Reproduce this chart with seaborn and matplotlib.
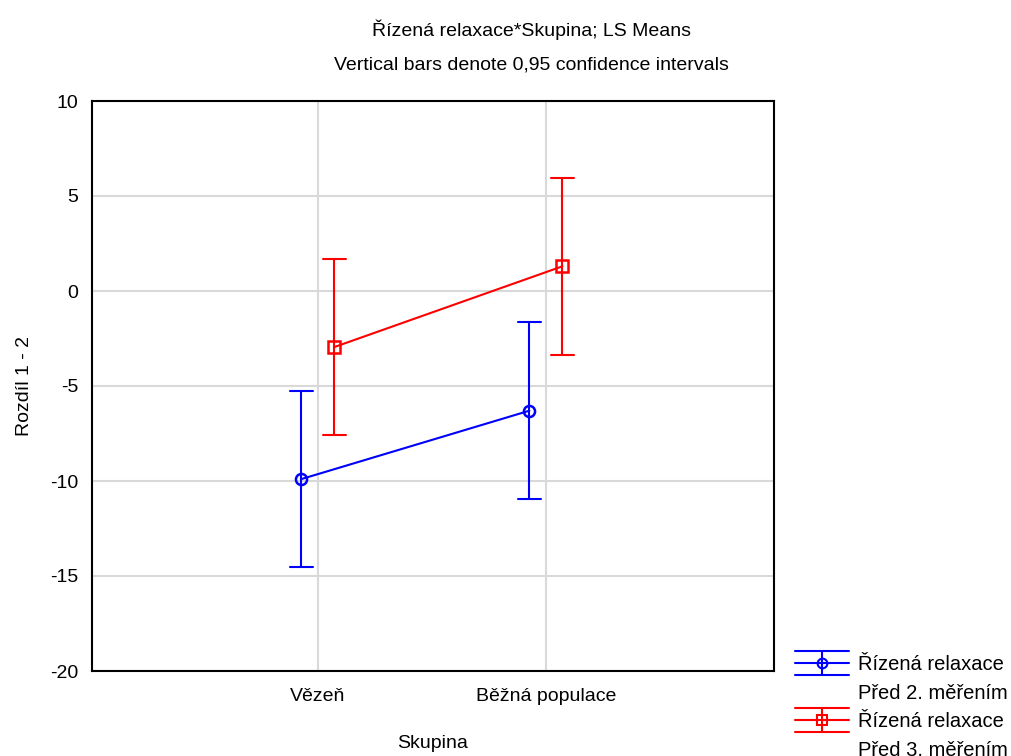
import pandas as pd
import matplotlib
matplotlib.use("Agg")
import matplotlib.pyplot as plt
import seaborn as sns
from matplotlib.lines import Line2D
from matplotlib.legend_handler import HandlerBase

# values (LS means and 95% CI bounds)
groups = ["Vězeň", "Běžná populace"]
series = ["Řízená relaxace\nPřed 2. měřením", "Řízená relaxace\nPřed 3. měřením"]
means_2 = [-9.9, -6.3]
lower_2 = [-14.55, -10.95]
upper_2 = [-5.25, -1.65]
means_3 = [-2.95, 1.3]
lower_3 = [-7.6, -3.35]
upper_3 = [1.7, 5.95]
colors = ["#0000FF", "#FF0000"]
markers = ["o", "s"]

# long table: lower / mean / upper per cell; median = mean, min-max = CI
rows = []
for s, m, lo, hi in [(series[0], means_2, lower_2, upper_2),
                     (series[1], means_3, lower_3, upper_3)]:
    for g, mv, lv, hv in zip(groups, m, lo, hi):
        for v in (lv, mv, hv):
            rows.append({"Skupina": g, "Serie": s, "value": v})
df = pd.DataFrame(rows)


# legend key in the "error bar" style: three horizontal strokes + vertical + marker
class ErrKey(HandlerBase):
    def create_artists(self, legend, orig, xd, yd, width, height, fontsize, trans):
        c = orig.get_color()
        x0, x1 = -xd, -xd + width
        if c == "none":
            blank = Line2D([x0, x1], [0, 0], color="none")
            blank.set_transform(trans)
            return [blank]
        xm = (x0 + x1) / 2
        ym = -yd + height / 2
        dy = 0.6 * fontsize
        arts = []
        for yy in (ym - dy, ym, ym + dy):
            arts.append(Line2D([x0, x1], [yy, yy], color=c, lw=1.5))
        arts.append(Line2D([xm, xm], [ym - dy, ym + dy], color=c, lw=1.5))
        arts.append(Line2D([xm], [ym], color=c, marker=orig.get_marker(),
                           markerfacecolor="none", markersize=7, mew=1.5))
        for a in arts:
            a.set_transform(trans)
        return arts


sns.set_theme(style="whitegrid")
plt.rcParams["font.family"] = ["Liberation Sans", "DejaVu Sans"]
plt.rcParams["axes.unicode_minus"] = False
plt.rcParams["text.color"] = "black"
plt.rcParams["axes.labelcolor"] = "black"

fig = plt.figure(figsize=(10.12, 7.56), dpi=100)
ax = fig.add_axes([92 / 1012, 1 - 671 / 756, (774 - 92) / 1012, (671 - 101) / 756])

sns.pointplot(data=df, x="Skupina", y="value", hue="Serie", order=groups,
              hue_order=series, palette=colors, estimator="median",
              errorbar=("pi", 100), dodge=0.145, capsize=0.1,
              markers=markers, markersize=8, linewidth=1.5,
              err_kws={"linewidth": 1.5}, ax=ax, legend=False)

for line in ax.lines:
    line.set_markerfacecolor("none")
    line.set_markeredgewidth(1.8)

ax.set_xlim(-0.99, 2.0)
ax.set_ylim(-20, 10)
ax.set_yticks([-20, -15, -10, -5, 0, 5, 10])
ax.grid(True, color="#d9d9d9", linewidth=1.5)
ax.set_axisbelow(True)
for sp in ax.spines.values():
    sp.set_color("black")
    sp.set_linewidth(1.5)
ax.tick_params(axis="y", labelsize=14, colors="black", length=0, pad=10)
ax.tick_params(axis="x", labelsize=14, colors="black", length=0, pad=12)
ax.set_xlabel("Skupina", fontsize=14, labelpad=22)
ax.set_ylabel("Rozdíl 1 - 2", fontsize=14, labelpad=12)

fig.text(0.525, 1 - 30 / 756, "Řízená relaxace*Skupina; LS Means",
         ha="center", va="center", fontsize=14)
fig.text(0.525, 1 - 65 / 756, "Vertical bars denote 0,95 confidence intervals",
         ha="center", va="center", fontsize=14)

# one legend row per text line; second line of each entry has a blank key
handles, labels = [], []
for c, mk, s in zip(colors, markers, series):
    first, second = s.split("\n")
    handles += [Line2D([], [], color=c, marker=mk), Line2D([], [], color="none")]
    labels += [first, second]
leg = fig.legend(handles, labels, loc="upper left",
                 bbox_to_anchor=(795 / 1012, 1 - 655 / 756),
                 frameon=False, fontsize=14.5, handlelength=2.7, handletextpad=0.45,
                 labelspacing=0.48, borderaxespad=0, borderpad=0,
                 handler_map={Line2D: ErrKey()})

fig.savefig("out.png", dpi=100)
